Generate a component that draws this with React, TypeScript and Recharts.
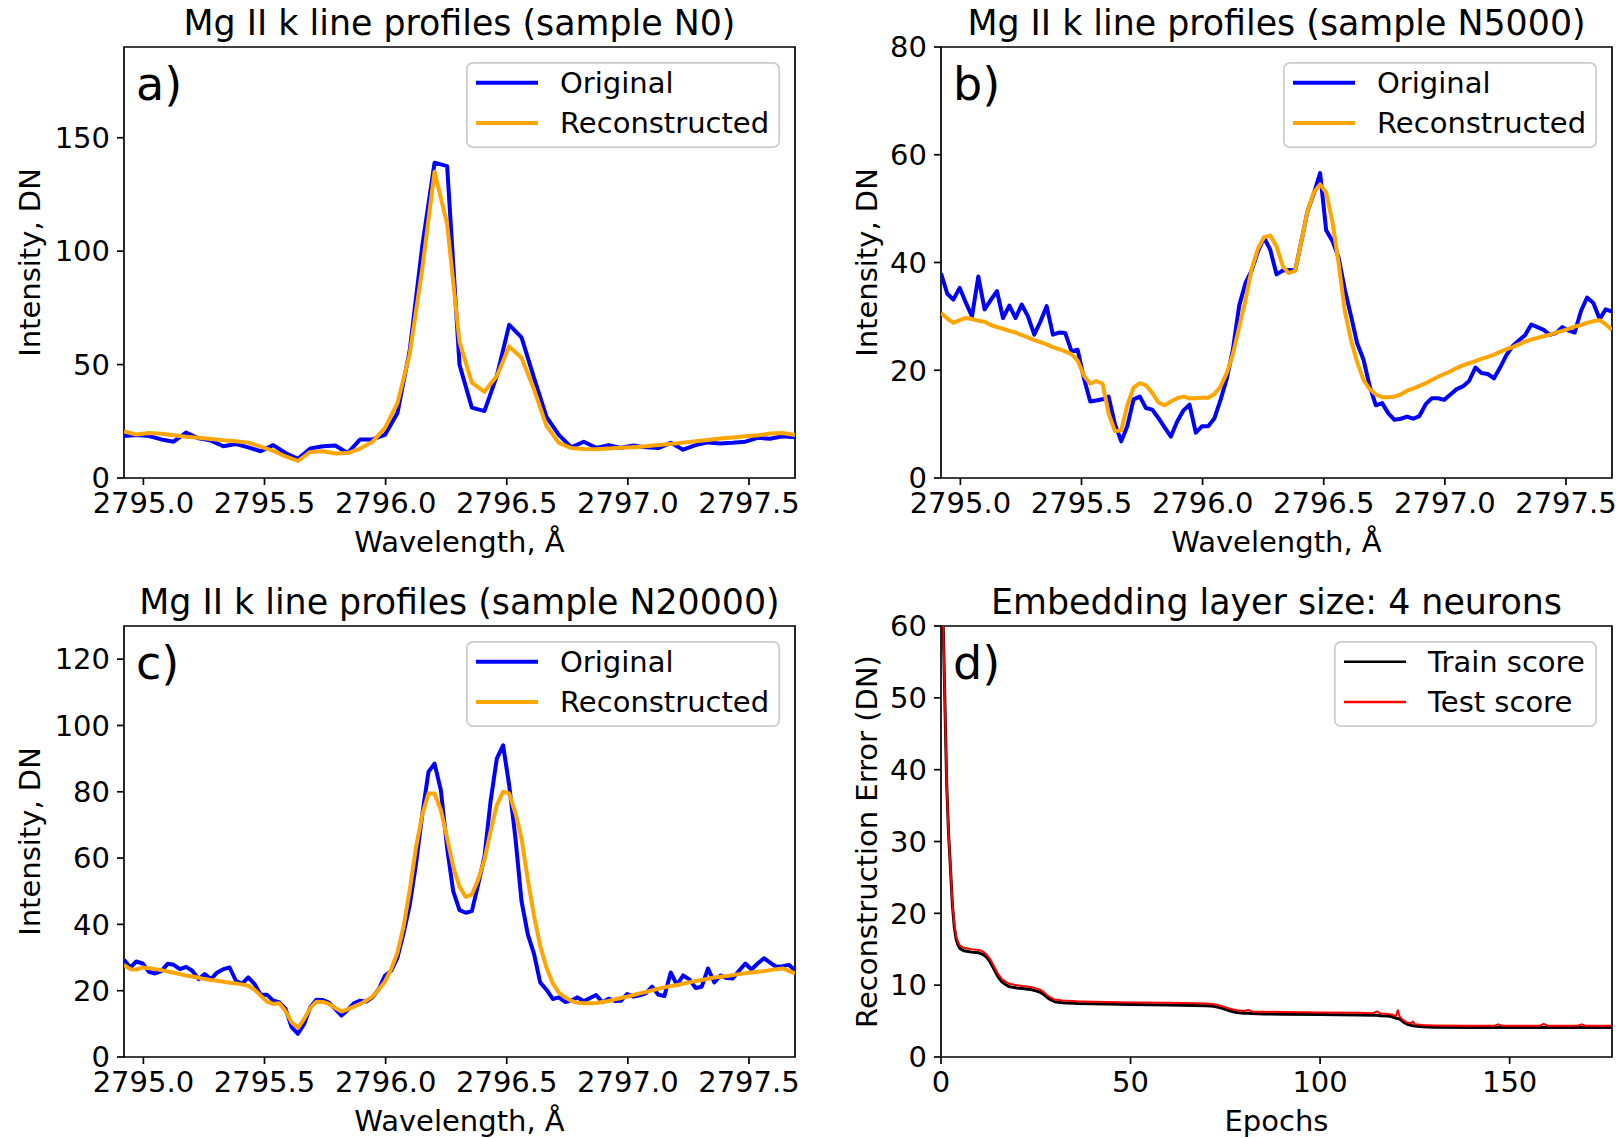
import React from 'react';
import { LineChart, Line, XAxis, YAxis, ReferenceArea, Legend } from 'recharts';

// wavelength grid (Angstrom), full resolution and every other sample
const wavelengthFine = [
  2794.920, 2794.946, 2794.971, 2794.997, 2795.023, 2795.048, 2795.074, 2795.100, 2795.125, 2795.151,
  2795.176, 2795.202, 2795.228, 2795.253, 2795.279, 2795.305, 2795.330, 2795.356, 2795.382, 2795.407,
  2795.433, 2795.459, 2795.484, 2795.510, 2795.536, 2795.561, 2795.587, 2795.612, 2795.638, 2795.664,
  2795.689, 2795.715, 2795.741, 2795.766, 2795.792, 2795.818, 2795.843, 2795.869, 2795.895, 2795.920,
  2795.946, 2795.972, 2795.997, 2796.023, 2796.049, 2796.074, 2796.100, 2796.125, 2796.151, 2796.177,
  2796.202, 2796.228, 2796.254, 2796.279, 2796.305, 2796.331, 2796.356, 2796.382, 2796.408, 2796.433,
  2796.459, 2796.485, 2796.510, 2796.536, 2796.561, 2796.587, 2796.613, 2796.638, 2796.664, 2796.690,
  2796.715, 2796.741, 2796.767, 2796.792, 2796.818, 2796.844, 2796.869, 2796.895, 2796.921, 2796.946,
  2796.972, 2796.997, 2797.023, 2797.049, 2797.074, 2797.100, 2797.126, 2797.151, 2797.177, 2797.203,
  2797.228, 2797.254, 2797.280, 2797.305, 2797.331, 2797.357, 2797.382, 2797.408, 2797.433, 2797.459,
  2797.485, 2797.510, 2797.536, 2797.562, 2797.587, 2797.613, 2797.639, 2797.664, 2797.690,
];
const wavelength = [
  2794.920, 2794.971, 2795.023, 2795.074, 2795.125, 2795.176, 2795.228, 2795.279, 2795.330, 2795.382,
  2795.433, 2795.484, 2795.536, 2795.587, 2795.638, 2795.689, 2795.741, 2795.792, 2795.843, 2795.895,
  2795.946, 2795.997, 2796.049, 2796.100, 2796.151, 2796.202, 2796.254, 2796.305, 2796.356, 2796.408,
  2796.459, 2796.510, 2796.561, 2796.613, 2796.664, 2796.715, 2796.767, 2796.818, 2796.869, 2796.921,
  2796.972, 2797.023, 2797.074, 2797.126, 2797.177, 2797.228, 2797.280, 2797.331, 2797.382, 2797.433,
  2797.485, 2797.536, 2797.587, 2797.639, 2797.690,
];
const wavelengthTicks = [2795.0, 2795.5, 2796.0, 2796.5, 2797.0, 2797.5];

// sample N0
const n0Original = [
  18.5, 19, 18.5, 17, 16, 20, 17.5, 16.5, 14, 15, 13.5, 11.8, 14.5, 11, 8.5, 13, 14, 14.3, 11, 17,
  17, 19, 28.7, 56.6, 102, 139, 137.5, 50, 31, 29.5, 45, 67.5, 62, 44, 27, 19, 13.5, 16, 13.3, 14.5,
  13.3, 14.3, 13.5, 13.2, 15.5, 12.5, 14.5, 15.7, 15.2, 15.5, 16, 17.7, 17.3, 18.4, 18,
];
const n0Reconstructed = [
  20.5, 19.2, 19.8, 19.5, 18.8, 18.2, 17.7, 17.2, 16.6, 16.2, 15.6, 13.8, 12, 9.5, 7.5, 11.5, 11.8, 10.8, 11, 13,
  16, 22, 33, 55, 92, 135, 112, 60, 42, 38, 45, 58, 53, 39, 23, 15.5, 13.2, 12.8, 12.7, 13,
  13.3, 13.6, 14, 14.5, 15, 15.6, 16.2, 16.8, 17.4, 17.9, 18.4, 18.8, 19.6, 19.8, 18.9,
];

// sample N5000
const n5000Original = [
  38, 34.2, 33.1, 35.3, 32.5, 30, 37.4, 31.3, 33, 34.7, 29.7, 32, 29.7, 32.2, 30, 26.6, 29, 31.9, 26.6, 27,
  26.9, 23.5, 23.8, 18.5, 14.2, 14.4, 14.6, 15.1, 10, 6.8, 9.6, 14.6, 15.1, 13, 12.7, 11.1, 9.4, 7.7, 10.5, 12.5,
  13.6, 8.4, 9.6, 9.6, 11.1, 14.5, 18.5, 23.8, 32, 36.2, 38.5, 42, 44.6, 42.4, 37.8, 38.5, 38.6, 38.5, 44, 49.5,
  52.8, 56.6, 46, 44, 41, 35, 30, 25, 22, 17, 13.5, 13.9, 12, 10.8, 11, 11.4, 11, 11.5, 13.7, 14.8,
  14.8, 14.5, 15.5, 16.5, 17, 18, 20.5, 19.5, 19.3, 18.5, 20.5, 22.8, 24.5, 25.5, 26.5, 28.5, 28, 27.5, 26.6, 26.9,
  28, 27.4, 27, 31, 33.5, 32.5, 29.5, 31.3, 30.9,
];
const n5000Reconstructed = [
  30.6, 29.6, 28.8, 29.3, 29.7, 29.5, 29.2, 29, 28.4, 28, 27.7, 27.3, 27, 26.5, 26.1, 25.6, 25.2, 24.8, 24.3, 23.9,
  23.5, 23, 21.8, 19, 17.5, 18, 17.5, 12, 8.7, 8.8, 13.5, 16.8, 17.6, 17.2, 15.8, 14, 13.5, 14.2, 14.8, 15.1,
  14.8, 14.8, 14.9, 14.9, 15.6, 17, 19.5, 23, 28, 33, 38.7, 42.5, 44.7, 45, 43, 39.3, 38, 38.5, 44, 49.5,
  53, 54.5, 53, 47.5, 40, 31, 25.5, 21.5, 18.2, 16.5, 15.5, 15, 15, 15.1, 15.5, 16.2, 16.6, 17.1, 17.6, 18.2,
  18.8, 19.3, 19.8, 20.4, 20.9, 21.3, 21.7, 22.1, 22.5, 22.9, 23.4, 23.9, 24.3, 24.8, 25.3, 25.7, 26, 26.3, 26.6, 27,
  27.3, 27.7, 28.1, 28.4, 28.8, 29.1, 29.3, 28.5, 27.5,
];

// sample N20000
const n20000Original = [
  29.3, 27, 28.8, 28.2, 25.7, 25.2, 25.9, 28.1, 27.8, 26.5, 27.2, 26, 23.5, 25, 23.5, 25.5, 26.5, 27, 23, 22.1,
  24, 22, 18.8, 18.8, 17, 16.5, 14.5, 9, 7, 10, 15, 17.3, 17.2, 16.4, 14.5, 12.5, 14.2, 16.2, 17, 16.7,
  18, 20.5, 24.5, 26, 30, 37.3, 46, 58, 73, 86, 88.5, 80.5, 63, 50, 44.3, 43.5, 44, 52, 60.4, 77,
  90, 94, 82, 66, 47, 37, 31, 22.5, 20.3, 17.5, 18, 16.6, 17, 18, 16.8, 17.8, 18.7, 16.5, 17.6, 16.9,
  17, 19, 18.2, 18.6, 19.2, 21.2, 18.8, 18.4, 25.5, 21.7, 24.6, 23.4, 20.8, 21.2, 26.7, 22.5, 24.6, 23.8, 23.7, 26,
  28.2, 26.4, 28.2, 29.8, 28.5, 27.2, 27.4, 27.8, 26.2,
];
const n20000Reconstructed = [
  27.8, 26.5, 26.4, 27, 26.8, 26.5, 26.2, 25.8, 25.4, 25, 24.6, 24.3, 23.9, 23.5, 23.2, 23, 22.7, 22.4, 22.2, 21.9,
  21.5, 20.3, 18.5, 16.7, 16, 16.2, 13.8, 10.5, 8.8, 11.5, 14.8, 16.7, 16.6, 16, 14.8, 13.7, 14.4, 15.2, 16, 17,
  18.2, 20.4, 22.7, 26.5, 31.5, 39.3, 50.5, 63, 73, 79.5, 79.5, 74.5, 66, 57.4, 51.4, 48.3, 49, 53.5, 59.5, 68,
  76, 80, 79.5, 73.5, 66, 53.5, 42.5, 33.5, 27, 22.2, 19.4, 18, 16.9, 16.4, 16.2, 16.2, 16.3, 16.6, 16.9, 17.4,
  17.8, 18.2, 18.7, 19.2, 19.6, 20.1, 20.6, 21, 21.4, 21.7, 22.1, 22.5, 22.9, 23.2, 23.6, 24, 24.2, 24.4, 24.7, 25,
  25.3, 25.5, 25.7, 25.9, 26.2, 26.5, 26.7, 26, 25.2,
];

// training history
const epochs = [
  0, 0.5, 1, 1.5, 2, 2.5, 3, 3.5, 4, 4.5, 5, 6, 8, 10, 11, 12, 13, 14, 15, 16,
  17, 18, 20, 22, 24, 25, 26, 27, 28, 29, 30, 32, 36, 40, 50, 60, 70, 72, 74, 76,
  78, 80, 81, 82, 85, 90, 100, 110, 114, 115, 116, 118, 119, 120, 120.5, 121, 122, 123, 124, 124.5,
  125, 127, 130, 140, 146, 147, 148, 158, 159, 160, 168, 169, 170, 177,
];
const trainScore = [
  75, 62, 50, 38, 31, 26.3, 21.2, 18.1, 16.4, 15.6, 15.1, 14.8, 14.6, 14.5, 14.3, 13.9, 13.2, 12.2, 11.2, 10.5,
  10.1, 9.8, 9.6, 9.5, 9.35, 9.2, 9.05, 8.75, 8.3, 7.95, 7.7, 7.55, 7.45, 7.4, 7.3, 7.25, 7.15, 7.05, 6.8, 6.45,
  6.2, 6.1, 6.1, 6.05, 6.0, 5.95, 5.9, 5.85, 5.8, 5.8, 5.75, 5.7, 5.6, 5.4, 5.35, 5.3, 4.85, 4.55, 4.4, 4.35,
  4.3, 4.2, 4.15, 4.1, 4.1, 4.1, 4.1, 4.1, 4.1, 4.1, 4.1, 4.1, 4.1, 4.1,
];
const testScore = [
  75, 62, 50, 38, 31, 26.5, 21.5, 18.5, 16.8, 16, 15.5, 15.2, 15.0, 14.9, 14.7, 14.3, 13.6, 12.6, 11.6, 10.9,
  10.5, 10.2, 10.0, 9.85, 9.7, 9.55, 9.4, 9.1, 8.6, 8.25, 8.0, 7.85, 7.75, 7.7, 7.6, 7.55, 7.45, 7.35, 7.1, 6.75,
  6.5, 6.4, 6.55, 6.35, 6.3, 6.25, 6.2, 6.15, 6.1, 6.35, 6.05, 6.0, 5.9, 5.7, 6.5, 5.6, 5.1, 4.8, 4.7, 4.95,
  4.55, 4.45, 4.4, 4.35, 4.35, 4.55, 4.35, 4.35, 4.6, 4.35, 4.35, 4.55, 4.35, 4.35,
];

const FONT = 'DejaVu Sans';
const Y_AXIS_W = 120;
const X_AXIS_H = 60;
const TOP_PAD = 25;
const PLOT_W = 671;
const PLOT_H = 431;

const zip = (xs, ys) => xs.map((x, i) => ({ x, y: ys[i] }));

// matplotlib-style legend box, entries kept in the order the series were drawn
const MplLegend = (props) => {
  const { payload, boxWidth, order } = props;
  const h = 86;
  const items = [...(payload || [])].sort((a, b) => order.indexOf(a.value) - order.indexOf(b.value));
  return (
    <svg width={boxWidth} height={h} style={{ display: 'block' }}>
      <rect x={0.85} y={0.85} width={boxWidth - 1.7} height={h - 1.7} rx={6} fill="#fff" fillOpacity={0.8} stroke="#cccccc" strokeWidth={1.7} />
      {items.map((entry, i) => (
        <g key={entry.value}>
          <line x1={10} x2={72} y1={20.7 + i * 40.3} y2={20.7 + i * 40.3} stroke={entry.color} strokeWidth={order.length && entry.payload?.strokeWidth > 3 ? 4 : 2.5} />
          <text x={94} y={20.7 + i * 40.3} dy="0.36em" fontSize={29} fontFamily={FONT} fill="#000">{entry.value}</text>
        </g>
      ))}
    </svg>
  );
};

const Panel = (props) => {
  const { plotLeft, plotTop, xDomain, xTicks, yDomain, yTicks, series, legendWidth, xFormat } = props;
  const chartLeft = plotLeft - Y_AXIS_W;
  const chartTop = plotTop - TOP_PAD;
  const order = series.map((s) => s.name);
  return (
    <div style={{ position: 'absolute', left: chartLeft, top: chartTop }}>
      <LineChart width={PLOT_W + Y_AXIS_W + 5} height={PLOT_H + X_AXIS_H + TOP_PAD} margin={{ top: TOP_PAD, right: 5, left: 0, bottom: 0 }}>
        <XAxis
          type="number"
          dataKey="x"
          domain={xDomain}
          ticks={xTicks}
          interval={0}
          allowDataOverflow
          height={X_AXIS_H}
          axisLine={false}
          tickLine={{ stroke: '#000', strokeWidth: 1.7 }}
          tickSize={7}
          tickMargin={7}
          tickFormatter={xFormat}
          tick={{ fill: '#000', fontSize: 29, fontFamily: FONT }}
        />
        <YAxis
          type="number"
          domain={yDomain}
          ticks={yTicks}
          interval={0}
          allowDataOverflow
          width={Y_AXIS_W}
          axisLine={false}
          tickLine={{ stroke: '#000', strokeWidth: 1.7 }}
          tickSize={7}
          tickMargin={7}
          tick={{ fill: '#000', fontSize: 29, fontFamily: FONT }}
        />
        {series.map((s) => (
          <Line
            key={s.name}
            name={s.name}
            data={s.data}
            dataKey="y"
            type="linear"
            stroke={s.color}
            strokeWidth={s.width}
            strokeLinejoin="round"
            dot={false}
            activeDot={false}
            isAnimationActive={false}
          />
        ))}
        <ReferenceArea x1={xDomain[0]} x2={xDomain[1]} y1={yDomain[0]} y2={yDomain[1]} fill="none" stroke="#000" strokeWidth={1.7} strokeOpacity={1} />
        <Legend
          layout="vertical"
          align="center"
          verticalAlign="middle"
          wrapperStyle={{ left: Y_AXIS_W + PLOT_W - 15.5 - legendWidth, top: TOP_PAD + 14.5, width: legendWidth }}
          content={(p) => <MplLegend {...p} boxWidth={legendWidth} order={order} />}
        />
      </LineChart>
    </div>
  );
};

const specDomain = [2794.92, 2797.69];
const fmt1 = (v) => v.toFixed(1);

const panels = [
  {
    id: 'a', plotLeft: 124, plotTop: 47, yDomain: [0, 190], yTicks: [0, 50, 100, 150], legendWidth: 314,
    title: 'Mg II k line profiles (sample N0)', xLabel: 'Wavelength, Å', yLabel: 'Intensity, DN', yLabelX: 40,
    series: [
      { name: 'Original', data: zip(wavelength, n0Original), color: '#0000ff', width: 4 },
      { name: 'Reconstructed', data: zip(wavelength, n0Reconstructed), color: '#ffa500', width: 4 },
    ],
  },
  {
    id: 'b', plotLeft: 941, plotTop: 47, yDomain: [0, 80], yTicks: [0, 20, 40, 60, 80], legendWidth: 314,
    title: 'Mg II k line profiles (sample N5000)', xLabel: 'Wavelength, Å', yLabel: 'Intensity, DN', yLabelX: 877,
    series: [
      { name: 'Original', data: zip(wavelengthFine, n5000Original), color: '#0000ff', width: 4 },
      { name: 'Reconstructed', data: zip(wavelengthFine, n5000Reconstructed), color: '#ffa500', width: 4 },
    ],
  },
  {
    id: 'c', plotLeft: 124, plotTop: 626, yDomain: [0, 130], yTicks: [0, 20, 40, 60, 80, 100, 120], legendWidth: 314,
    title: 'Mg II k line profiles (sample N20000)', xLabel: 'Wavelength, Å', yLabel: 'Intensity, DN', yLabelX: 40,
    series: [
      { name: 'Original', data: zip(wavelengthFine, n20000Original), color: '#0000ff', width: 4 },
      { name: 'Reconstructed', data: zip(wavelengthFine, n20000Reconstructed), color: '#ffa500', width: 4 },
    ],
  },
];

const lossPanel = {
  id: 'd', plotLeft: 941, plotTop: 626, yDomain: [0, 60], yTicks: [0, 10, 20, 30, 40, 50, 60], legendWidth: 263,
  title: 'Embedding layer size: 4 neurons', xLabel: 'Epochs', yLabel: 'Reconstruction Error (DN)', yLabelX: 877,
  series: [
    { name: 'Train score', data: zip(epochs, trainScore), color: '#000000', width: 3 },
    { name: 'Test score', data: zip(epochs, testScore), color: '#ff0000', width: 2 },
  ],
};

const allPanels = [...panels, lossPanel];

export default function App() {
  return (
    <div style={{ position: 'absolute', left: 0, top: 0, width: 1620, height: 1138, background: '#fff', fontFamily: FONT }}>
      {panels.map((p) => (
        <Panel key={p.id} {...p} xDomain={specDomain} xTicks={wavelengthTicks} xFormat={fmt1} />
      ))}
      <Panel {...lossPanel} xDomain={[0, 177]} xTicks={[0, 50, 100, 150]} xFormat={(v) => String(v)} />
      <svg width={1620} height={1138} style={{ position: 'absolute', left: 0, top: 0, pointerEvents: 'none' }}>
        {allPanels.map((p) => {
          const cx = p.plotLeft + PLOT_W / 2;
          const cy = p.plotTop + PLOT_H / 2;
          return (
            <g key={p.id} fontFamily={FONT} fill="#000">
              <text x={cx} y={p.plotTop - 12} textAnchor="middle" fontSize={34.8}>{p.title}</text>
              <text x={p.plotLeft + 12} y={p.plotTop + 53} fontSize={46}>{p.id + ')'}</text>
              <text x={cx} y={p.plotTop + 505} textAnchor="middle" fontSize={29}>{p.xLabel}</text>
              <text x={p.yLabelX} y={cy} textAnchor="middle" fontSize={29} transform={`rotate(-90 ${p.yLabelX} ${cy})`}>{p.yLabel}</text>
            </g>
          );
        })}
      </svg>
    </div>
  );
}
